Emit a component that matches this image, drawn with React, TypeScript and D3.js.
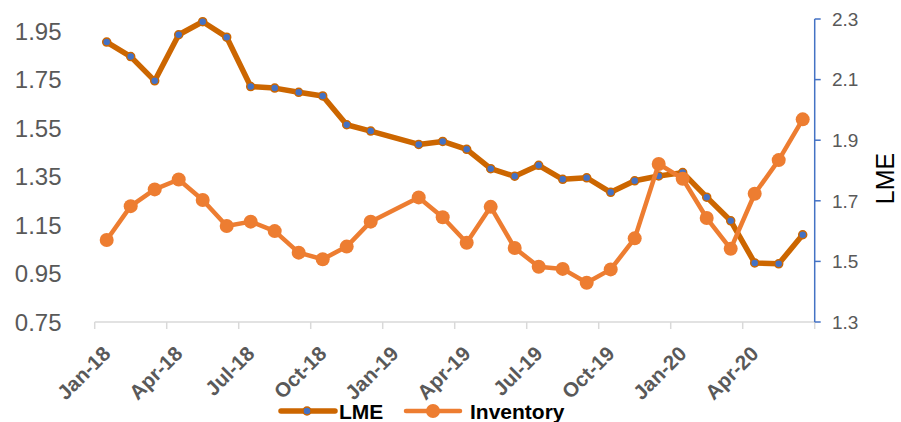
import React from 'react';
import * as d3 from 'd3';

const months = [
  'Jan-18', 'Feb-18', 'Mar-18', 'Apr-18', 'May-18', 'Jun-18', 'Jul-18', 'Aug-18', 'Sep-18', 'Oct-18',
  'Nov-18', 'Dec-18', 'Jan-19', 'Feb-19', 'Mar-19', 'Apr-19', 'May-19', 'Jun-19', 'Jul-19', 'Aug-19',
  'Sep-19', 'Oct-19', 'Nov-19', 'Dec-19', 'Jan-20', 'Feb-20', 'Mar-20', 'Apr-20', 'May-20', 'Jun-20',
];

// LME price, plotted on the right axis (Jan-19 has no value)
const lme = [
  2.224, 2.176, 2.096, 2.248, 2.291, 2.240, 2.077, 2.072, 2.058, 2.046,
  1.951, 1.930, null, 1.886, 1.896, 1.870, 1.806, 1.781, 1.817, 1.771,
  1.776, 1.728, 1.766, 1.782, 1.793, 1.712, 1.634, 1.495, 1.492, 1.588,
];

// Inventory, plotted on the left axis
const inventory = [
  1.088, 1.228, 1.297, 1.338, 1.253, 1.146, 1.164, 1.125, 1.036, 1.009,
  1.061, 1.164, null, 1.264, 1.182, 1.077, 1.225, 1.055, 0.978, 0.969,
  0.912, 0.967, 1.095, 1.402, 1.341, 1.179, 1.052, 1.279, 1.418, 1.586,
];

const leftTicks = [0.75, 0.95, 1.15, 1.35, 1.55, 1.75, 1.95];
const rightTicks = [1.3, 1.5, 1.7, 1.9, 2.1, 2.3];

const W = 901;
const H = 422;
const left = 94.7;
const right = 814.7;
const top = 19;
const bottom = 322;

const LME_COLOR = '#CC6600';
const INV_COLOR = '#ED7D31';
const BLUE = '#4472C4';
const GREY = '#595959';

export default function App() {
  const x = d3.scaleBand().domain(months).range([left, right]);
  const cx = (m) => x(m) + x.bandwidth() / 2;
  const yL = d3.scaleLinear().domain([0.75, 2.0]).range([bottom, top]);
  const yR = d3.scaleLinear().domain([1.3, 2.3]).range([bottom, top]);

  const lmePts = months.map((m, i) => ({ m, v: lme[i] })).filter((d) => d.v != null);
  const invPts = months.map((m, i) => ({ m, v: inventory[i] })).filter((d) => d.v != null);

  const lmeLine = d3.line().x((d) => cx(d.m)).y((d) => yR(d.v));
  const invLine = d3.line().x((d) => cx(d.m)).y((d) => yL(d.v));

  // tick marks every 3 months on category boundaries
  const boundaries = d3.range(0, months.length + 1, 3).map((i) => left + i * x.step());
  const labelled = months.filter((_, i) => i % 3 === 0);

  return (
    <svg width={W} height={H} style={{ position: 'absolute', left: 0, top: 0, background: '#fff' }}
      fontFamily="'Liberation Sans', Arial, sans-serif">
      {/* x axis */}
      <line x1={left} x2={right} y1={bottom} y2={bottom} stroke="#D9D9D9" strokeWidth={1.5} />
      {boundaries.map((b, i) => (
        <line key={i} x1={b} x2={b} y1={bottom} y2={bottom + 7} stroke="#D9D9D9" strokeWidth={1.5} />
      ))}
      {labelled.map((m) => (
        <text key={m} transform={`translate(${cx(m) + 5},${bottom + 33}) rotate(-45)`}
          textAnchor="end" fontSize={20.5} fontWeight="bold" fill={GREY}>{m}</text>
      ))}

      {/* left axis labels */}
      {leftTicks.map((t) => (
        <text key={t} x={61.5} y={yL(t)} dy="0.36em" textAnchor="end" fontSize={24}
          fill={GREY}>{t.toFixed(2)}</text>
      ))}

      {/* right axis */}
      <line x1={right} x2={right} y1={top} y2={bottom} stroke={BLUE} strokeWidth={1.5} />
      {rightTicks.map((t) => (
        <g key={t}>
          <line x1={right} x2={right + 6} y1={yR(t)} y2={yR(t)} stroke={BLUE} strokeWidth={1.5} />
          <text x={832} y={yR(t)} dy="0.36em" fontSize={19} fill={GREY}>{t.toFixed(1)}</text>
        </g>
      ))}
      <text transform={`translate(894,${(top + bottom) / 2 + 8}) rotate(-90)`} textAnchor="middle"
        fontSize={25} fill="#000">LME</text>

      {/* LME series */}
      <path d={lmeLine(lmePts)} fill="none" stroke={LME_COLOR} strokeWidth={5.5} strokeLinejoin="round" />
      {lmePts.map((d) => (
        <circle key={d.m} cx={cx(d.m)} cy={yR(d.v)} r={4} fill={BLUE} stroke={LME_COLOR} strokeWidth={1.5} />
      ))}

      {/* Inventory series */}
      <path d={invLine(invPts)} fill="none" stroke={INV_COLOR} strokeWidth={4.5} strokeLinejoin="round" />
      {invPts.map((d) => (
        <circle key={d.m} cx={cx(d.m)} cy={yL(d.v)} r={7} fill={INV_COLOR} />
      ))}

      {/* legend */}
      <g>
        <line x1={281} x2={335} y1={411} y2={411} stroke={LME_COLOR} strokeWidth={5.5} strokeLinecap="round" />
        <circle cx={307} cy={411} r={4} fill={BLUE} stroke={LME_COLOR} strokeWidth={1.5} />
        <text x={339} y={419} fontSize={21} fontWeight="bold" fill="#000">LME</text>
        <line x1={406} x2={460} y1={411} y2={411} stroke={INV_COLOR} strokeWidth={4.5} strokeLinecap="round" />
        <circle cx={433} cy={411} r={7} fill={INV_COLOR} />
        <text x={470} y={419} fontSize={21} fontWeight="bold" fill="#000">Inventory</text>
      </g>
    </svg>
  );
}
